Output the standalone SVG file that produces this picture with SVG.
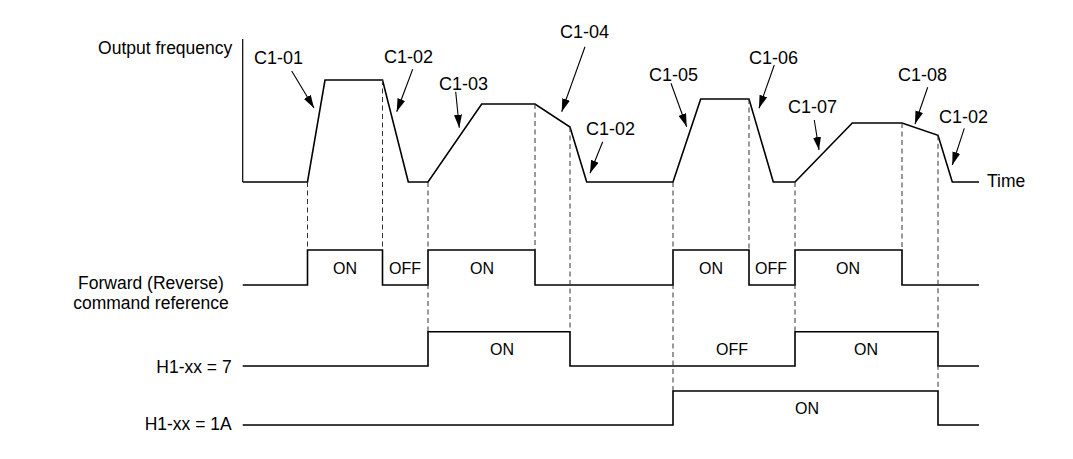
<svg xmlns="http://www.w3.org/2000/svg" width="1073" height="459" viewBox="0 0 1073 459">
<style>
  .lbl { font-family: "Liberation Sans", Arial, sans-serif; font-size: 17.5px; fill: #000; }
  .c1 { font-family: "Liberation Sans", Arial, sans-serif; font-size: 18px; fill: #000; }
  .st { font-family: "Liberation Sans", Arial, sans-serif; font-size: 16px; fill: #000; text-anchor: middle; }
  .wave { fill: none; stroke: #000; stroke-width: 1.6; stroke-linejoin: miter; }
  .axis { fill: none; stroke: #000; stroke-width: 1.2; }
  .dash { fill: none; stroke: #333; stroke-width: 1; stroke-dasharray: 5 3.5; }
  .arr { fill: none; stroke: #000; stroke-width: 1.1; marker-end: url(#ah); }
</style>
<defs>
  <marker id="ah" viewBox="0 0 13 8" refX="13" refY="4" markerWidth="13" markerHeight="8" markerUnits="userSpaceOnUse" orient="auto">
    <path d="M0,0 L13,4 L0,8 Z" fill="#000"/>
  </marker>
</defs>
<rect width="1073" height="459" fill="#fff"/>

<g id="labels">
  <text class="lbl" x="232.3" y="54" text-anchor="end">Output frequency</text>
  <text class="lbl" x="151" y="289" text-anchor="middle">Forward (Reverse)</text>
  <text class="lbl" x="151" y="309" text-anchor="middle">command reference</text>
  <text class="lbl" x="231.7" y="372.7" text-anchor="end">H1-xx = 7</text>
  <text class="lbl" x="231.7" y="430" text-anchor="end">H1-xx = 1A</text>
  <text class="lbl" x="987" y="187">Time</text>
</g>

<g id="frequency">
  <line class="axis" x1="242.7" y1="39" x2="242.7" y2="182"/>
  <polyline class="wave" points="242.7,182 307.5,182 325,80 382.5,80 408.3,182 428,182 481.7,104 535,104 570,127 586.7,182 673,182 700.7,99 749,99 773.3,182 795,182 852.3,123 902,123 938,135.3 952.3,182 979,182"/>
  <text class="c1" x="254" y="63.5">C1-01</text>
  <text class="c1" x="384" y="63">C1-02</text>
  <text class="c1" x="439" y="90">C1-03</text>
  <text class="c1" x="560" y="38">C1-04</text>
  <text class="c1" x="586" y="135">C1-02</text>
  <text class="c1" x="649" y="80.7">C1-05</text>
  <text class="c1" x="749" y="64">C1-06</text>
  <text class="c1" x="788" y="113">C1-07</text>
  <text class="c1" x="898" y="80.7">C1-08</text>
  <text class="c1" x="939" y="123">C1-02</text>
</g>

<g id="forward">
  <polyline class="wave" points="242.7,285 307.5,285 307.5,250 382.5,250 382.5,285 428,285 428,250 535,250 535,285 673,285 673,250 749,250 749,285 795,285 795,250 902,250 902,285 979,285"/>
  <text class="st" x="345" y="274">ON</text>
  <text class="st" x="405" y="274">OFF</text>
  <text class="st" x="482" y="274">ON</text>
  <text class="st" x="711" y="274">ON</text>
  <text class="st" x="771" y="274">OFF</text>
  <text class="st" x="848" y="274">ON</text>
</g>

<g id="h1-7">
  <polyline class="wave" points="242.7,366 428,366 428,331.7 570,331.7 570,366 795,366 795,331.7 938,331.7 938,366 979,366"/>
  <text class="st" x="502" y="355">ON</text>
  <text class="st" x="732" y="355">OFF</text>
  <text class="st" x="866" y="355">ON</text>
</g>

<g id="h1-1a">
  <polyline class="wave" points="242.7,425 673,425 673,391 938,391 938,425 979,425"/>
  <text class="st" x="807" y="414">ON</text>
</g>

<g id="connectors">
  <line class="dash" x1="307.5" y1="182" x2="307.5" y2="250"/>
  <line class="dash" x1="382.5" y1="80" x2="382.5" y2="250"/>
  <line class="dash" x1="428" y1="182" x2="428" y2="331.7"/>
  <line class="dash" x1="535" y1="104" x2="535" y2="250"/>
  <line class="dash" x1="570" y1="127" x2="570" y2="331.7"/>
  <line class="dash" x1="673" y1="182" x2="673" y2="391"/>
  <line class="dash" x1="749" y1="99" x2="749" y2="250"/>
  <line class="dash" x1="795" y1="182" x2="795" y2="331.7"/>
  <line class="dash" x1="902" y1="123" x2="902" y2="250"/>
  <line class="dash" x1="938" y1="135.3" x2="938" y2="391"/>

  <line class="arr" x1="291.7" y1="71" x2="314" y2="108"/>
  <line class="arr" x1="412.7" y1="69.3" x2="396.7" y2="111.7"/>
  <line class="arr" x1="455.7" y1="91.7" x2="459.3" y2="127.7"/>
  <line class="arr" x1="585" y1="46.7" x2="561.7" y2="111.7"/>
  <line class="arr" x1="602.7" y1="141.7" x2="590" y2="173.3"/>
  <line class="arr" x1="671" y1="83.3" x2="686.7" y2="126.7"/>
  <line class="arr" x1="774.3" y1="65" x2="759" y2="108.3"/>
  <line class="arr" x1="814.3" y1="120" x2="819" y2="150"/>
  <line class="arr" x1="927.7" y1="87.3" x2="915" y2="124"/>
  <line class="arr" x1="964.3" y1="128.3" x2="952.3" y2="165"/>
</g>
</svg>
